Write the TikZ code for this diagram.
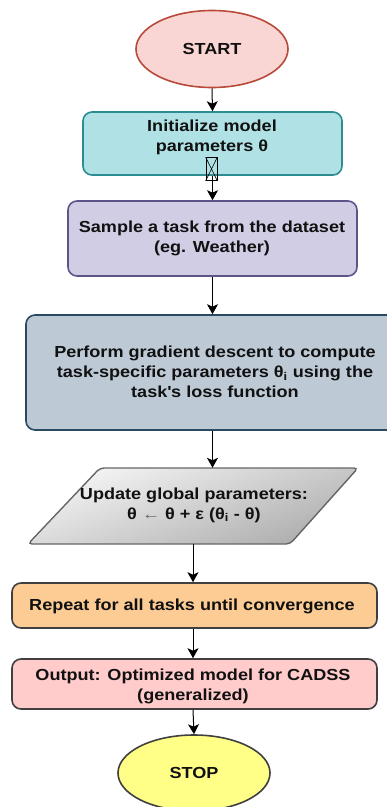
\documentclass[tikz,border=0pt]{standalone}
\usepackage{fontspec}
\setmainfont[FakeStretch=1.13]{Liberation Sans}
\usetikzlibrary{arrows.meta,shapes.geometric}
\definecolor{startfill}{HTML}{F9D6D3}
\definecolor{startdraw}{HTML}{B84A3A}
\definecolor{initfill}{HTML}{B0E2E5}
\definecolor{initdraw}{HTML}{2B8C92}
\definecolor{samplefill}{HTML}{D1CDE5}
\definecolor{sampledraw}{HTML}{5D5589}
\definecolor{perffill}{HTML}{BDCAD6}
\definecolor{perfdraw}{HTML}{2A4A62}
\definecolor{repfill}{HTML}{FCCC94}
\definecolor{outfill}{HTML}{FFCBCB}
\definecolor{stopfill}{HTML}{FFFF88}
\definecolor{darkdraw}{HTML}{404040}
\definecolor{txt}{HTML}{111111}
\tikzset{
  box/.style={draw, line width=1.6pt, rounded corners=9pt, inner sep=0pt},
  oval/.style={ellipse, draw, line width=1.6pt, inner sep=0pt},
  lbl/.style={align=center, text=txt, font=\bfseries\fontsize{16}{20}\selectfont, inner sep=0pt},
  arr/.style={-{Stealth[length=10pt,width=11pt,inset=2.5pt]}, line width=1pt, black},
}
\begin{document}
\begin{tikzpicture}[x=1pt,y=-1pt]
\useasboundingbox (0,0) rectangle (387,807);
\fill[white] (0,0) rectangle (387,807);
% START
\node[oval, fill=startfill, draw=startdraw, minimum width=152pt, minimum height=77pt] (start) at (212,49) {};
\node[lbl] at (212,49) {START};
% Init
\node[box, fill=initfill, draw=initdraw, minimum width=259pt, minimum height=63pt] (init) at (212.5,143.5) {};
\node[lbl] (initt) at (212,137) {Initialize model\\parameters θ};
% Sample
\node[box, fill=samplefill, draw=sampledraw, minimum width=289pt, minimum height=75pt] (sample) at (212.5,238.5) {};
\node[lbl] at (212,238) {Sample a task from the dataset\\(eg. Weather)};
% Perform
\node[box, fill=perffill, draw=perfdraw, minimum width=378pt, minimum height=115pt] (perf) at (215,372.5) {};
\node[lbl] at (215,372) {Perform gradient descent to compute\\task-specific parameters θ\textsubscript{i} using the\\task\textquotesingle s loss function};
% Update parallelogram
\node[minimum width=258pt, minimum height=76pt, inner sep=0pt] (upd) at (193,506) {};
\coordinate (p1) at (100,468);
\coordinate (p2) at (358,468);
\coordinate (p3) at (290,544);
\coordinate (p4) at (28,544);
\shade[top color=black!4, bottom color=black!32, shading angle=20, draw=darkdraw!80, line width=1.4pt, rounded corners=4pt] (p1) -- (p2) -- (p3) -- (p4) -- cycle;
\node[lbl] at (194,505) {Update global parameters:\\θ {\mdseries\color{black!60}←} θ + ε (θ\textsubscript{i} - θ)};
% Repeat
\node[box, fill=repfill, draw=darkdraw, minimum width=365pt, minimum height=45pt] (rep) at (194.5,605.5) {};
\node[lbl] at (192,606) {Repeat for all tasks until convergence};
% Output
\node[box, fill=outfill, draw=darkdraw, minimum width=365pt, minimum height=50pt] (out) at (194.5,684) {};
\node[lbl] at (193,686) {Output: Optimized model for CADSS\\(generalized)};
% STOP
\node[oval, fill=stopfill, draw=darkdraw, minimum width=152pt, minimum height=76pt] (stop) at (194,773) {};
\node[lbl] at (194,773) {STOP};
% arrows
\draw[arr] (start.south) -- (init.north);
\draw[arr] (init.south) -- (sample.north);
\draw[arr] (sample.south) -- (sample.south |- perf.north);
\draw[arr] (sample.south |- perf.south) -- (sample.south |- upd.north);
\draw[arr] (upd.south) -- (rep.north -| upd.south);
\draw[arr] (rep.south -| upd.south) -- (out.north -| upd.south);
\draw[arr] (out.south -| upd.south) -- (stop.north);
% missing-glyph box
\node[draw, line width=0.7pt, minimum width=11pt, minimum height=23pt, inner sep=0pt] (glyph) at (211.5,169) {};
\draw[line width=0.6pt] (glyph.north west) -- (glyph.south east) (glyph.north east) -- (glyph.south west);
\end{tikzpicture}
\end{document}
